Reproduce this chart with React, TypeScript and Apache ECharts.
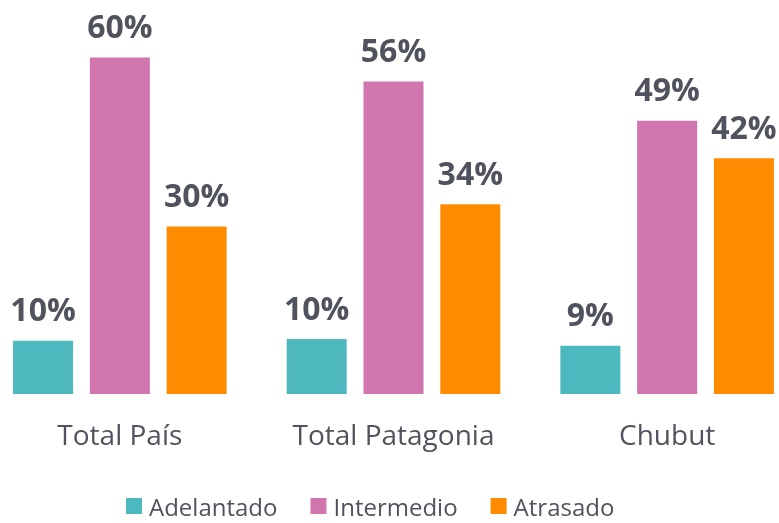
import React, { useEffect, useRef } from "react";
import * as echarts from "echarts";

const categories = ["Total País", "Total Patagonia", "Chubut"];
const seriesNames = ["Adelantado", "Intermedio", "Atrasado"];
const adelantado = [9.5, 9.8, 8.6];
const intermedio = [60.1, 55.8, 48.8];
const atrasado = [29.9, 33.9, 42.1];
const colors = ["#4DB8BE", "#D175AE", "#FF8C00"];

const OFFSET = 17;

export default function App() {
  const ref = useRef<HTMLDivElement>(null);
  useEffect(() => {
    const chart = echarts.init(ref.current!, null, { renderer: "svg" });
    const textColor = "#50535D";
    const font = "'Open Sans', sans-serif";
    const data = [adelantado, intermedio, atrasado];
    chart.setOption({
      animation: false,
      color: colors,
      grid: { left: 0, right: 0, top: 2, bottom: 129, containLabel: false },
      legend: {
        top: 491,
        left: 126 + OFFSET,
        padding: 0,
        itemWidth: 16,
        itemHeight: 16,
        itemGap: 33,
        icon: "rect",
        textStyle: { fontSize: 24, lineHeight: 30, color: textColor, fontFamily: font, padding: [0, 0, 0, 2] },
        data: seriesNames,
      },
      xAxis: {
        type: "category",
        data: categories,
        axisLine: { show: false },
        axisTick: { show: false },
        axisLabel: { interval: 0, fontSize: 28, color: textColor, fontFamily: font, margin: 26 },
      },
      yAxis: { type: "value", min: 0, max: 70, show: false },
      series: seriesNames.map((name, i) => ({
        name,
        type: "bar",
        barWidth: 60,
        barGap: "28%",
        data: data[i],
        label: {
          show: true,
          position: "top",
          distance: 16,
          fontSize: 32,
          fontWeight: "bold",
          color: textColor,
          fontFamily: font,
          formatter: (p: any) => Math.round(p.value) + "%",
        },
      })),
    });
    return () => chart.dispose();
  }, []);
  return (
    <div style={{ position: "fixed", left: 0, top: 0, width: 779, height: 523, overflow: "hidden" }}>
      <div ref={ref} style={{ position: "absolute", left: -OFFSET, top: 0, width: 821, height: 523 }} />
    </div>
  );
}
